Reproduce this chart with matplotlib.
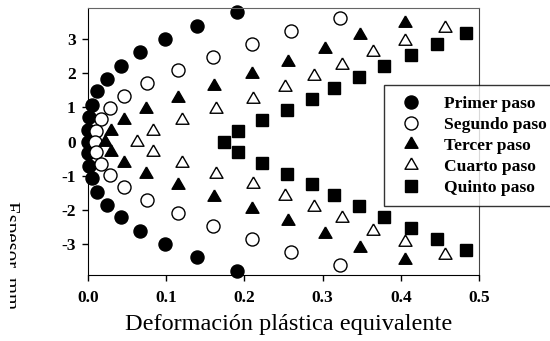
import numpy as np
import matplotlib
matplotlib.use("Agg")
import matplotlib.pyplot as plt
from matplotlib.transforms import Bbox

plt.rcParams['font.family'] = ['Liberation Serif', 'DejaVu Serif']

# half profiles (upper half, y >= 0); the lower half is the mirror image
y1 = [3.79, 3.39, 3.00, 2.62, 2.21, 1.85, 1.47, 1.07, 0.71, 0.35, 0.0]
x1 = [0.190, 0.140, 0.099, 0.066, 0.042, 0.024, 0.012, 0.0055, 0.0017, 0.0, 0.0]

y2 = [3.63, 3.24, 2.86, 2.47, 2.09, 1.72, 1.35, 0.98, 0.66, 0.32, 0.0]
x2 = [0.322, 0.259, 0.210, 0.160, 0.115, 0.075, 0.046, 0.028, 0.016, 0.010, 0.009]

y3 = [3.475, 3.115, 2.71, 2.34, 1.995, 1.63, 1.275, 0.955, 0.64, 0.31, 0.0]
x3 = [0.406, 0.348, 0.303, 0.256, 0.210, 0.161, 0.115, 0.074, 0.046, 0.030, 0.022]

y4 = [3.345, 2.965, 2.615, 2.26, 1.92, 1.595, 1.26, 0.945, 0.64, 0.32, 0.0]
x4 = [0.457, 0.406, 0.364, 0.325, 0.289, 0.252, 0.211, 0.164, 0.120, 0.083, 0.063]

y5 = [3.20, 2.86, 2.54, 2.21, 1.88, 1.57, 1.25, 0.94, 0.63, 0.31, 0.0]
x5 = [0.484, 0.446, 0.413, 0.378, 0.347, 0.315, 0.286, 0.255, 0.223, 0.192, 0.174]

labels = ['Primer paso', 'Segundo paso', 'Tercer paso', 'Cuarto paso', 'Quinto paso']
xticks = [0.0, 0.1, 0.2, 0.3, 0.4, 0.5]
yticks = [-3, -2, -1, 0, 1, 2, 3]


def full(x, y):
    # mirror the upper half to get the whole thickness
    xs = list(x) + list(x[:-1])[::-1]
    ys = list(y) + [-v for v in y[:-1]][::-1]
    return xs, ys


# triangle centred on its centroid (like the original program draws it)
tri = [(0, 1), (-0.866, -0.5), (0.866, -0.5), (0, 1)]

styles = [
    dict(marker='o', ms=9.4, mfc='black'),
    dict(marker='o', ms=9.4, mfc='white'),
    dict(marker=tri, ms=10.8, mfc='black'),
    dict(marker=tri, ms=10.8, mfc='white'),
    dict(marker='s', ms=8.2, mfc='black'),
]

fig = plt.figure(figsize=(5.5, 3.41), dpi=100)
ax = fig.add_axes([0.16, 0.1935, 0.7109, 0.783])

for (x, y), lab, st in zip([(x1, y1), (x2, y2), (x3, y3), (x4, y4), (x5, y5)], labels, styles):
    xs, ys = full(x, y)
    ax.plot(xs, ys, ls='none', mec='black', mew=1.0, label=lab, clip_on=False, **st)

ax.set_xlim(0, 0.5)
ax.set_ylim(-3.92, 3.92)
ax.set_xticks(xticks)
ax.set_xticklabels(['%.1f' % v for v in xticks])
ax.set_yticks(yticks)
ax.set_yticklabels([str(v) for v in yticks])  # plain hyphen, not unicode minus
ax.tick_params(direction='out', length=4, width=1, labelsize=12.5)
ax.tick_params(axis='x', pad=7)
ax.tick_params(axis='y', pad=5)
for t in ax.get_xticklabels() + ax.get_yticklabels():
    t.set_fontweight('bold')
ax.spines['top'].set_color('#666666')
ax.spines['right'].set_color('#444444')

leg = ax.legend(loc='upper left', bbox_to_anchor=(384 / 550, 1 - 85 / 341),
                bbox_transform=fig.transFigure, frameon=True, fancybox=False,
                prop={'weight': 'bold', 'size': 12.6}, borderaxespad=0,
                borderpad=0.6, handlelength=1.9, handletextpad=0.95,
                labelspacing=0.27, numpoints=1)
leg.get_frame().set_edgecolor('black')
leg.get_frame().set_linewidth(1.0)

fig.text(289 / 550, 1 - 330 / 341, 'Deformación plástica equivalente',
         ha='center', va='baseline', fontsize=17.5)
yl = fig.text(19 / 550, 1 - 255 / 341, 'Espesor, mm', rotation=270,
              ha='right', va='center', fontsize=15)
# the original label is cut off on its left side
yl.set_clip_box(Bbox([[10, 0], [40, 341]]))
yl.set_clip_on(True)

fig.savefig('out.png', dpi=100)
